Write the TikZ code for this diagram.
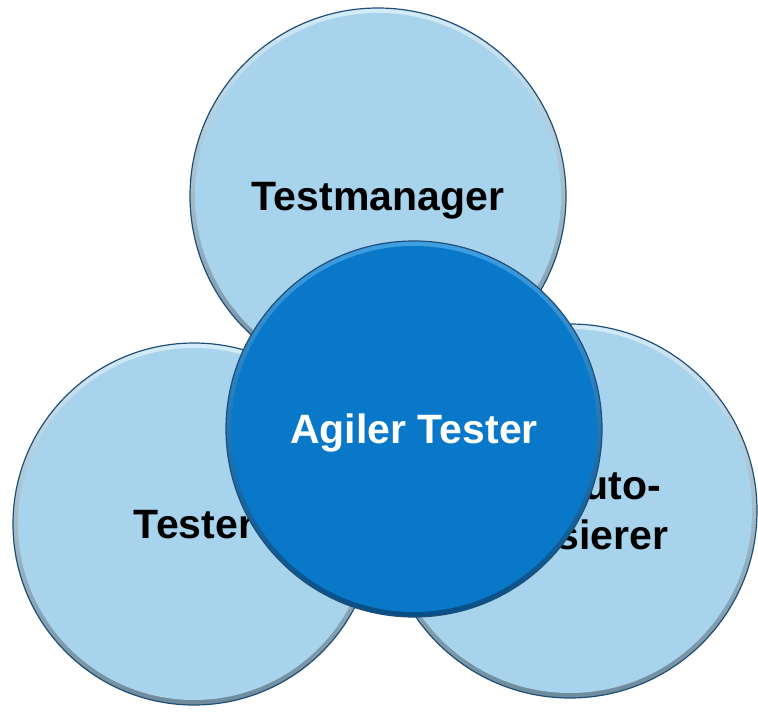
\documentclass[tikz,border=0pt]{standalone}
\usepackage{fontspec}
\setmainfont{Liberation Sans}
\usepackage{tikz}

\definecolor{paleblue}{HTML}{A7D3EC}
\definecolor{paletop}{HTML}{D4ECF8}
\definecolor{palebottom}{HTML}{6E8B9C}
\definecolor{deepblue}{HTML}{0A78C8}
\definecolor{deeptop}{HTML}{3E9FE2}
\definecolor{deepbottom}{HTML}{064E86}
\definecolor{rimline}{HTML}{1F4E79}

\begin{document}
\begin{tikzpicture}[x=1pt, y=-1pt,
	ball/.style={circle, draw=rimline, line width=1.2pt, minimum size=2*#1, inner sep=0pt,
		font=\bfseries\fontsize{41}{50}\selectfont, align=center},
	role/.style={ball=#1, top color=paletop, bottom color=palebottom,
		path picture={\fill[paleblue] (path picture bounding box.center) circle [radius=#1-5pt];}},
	core/.style={ball=#1, text=white, top color=deeptop, bottom color=deepbottom,
		path picture={\fill[deepblue] (path picture bounding box.center) circle [radius=#1-5pt];}},
	oneline/.style={text height=29.5pt, text depth=0pt}]
\useasboundingbox (0,0) rectangle (758,714);
\node [role=188pt, oneline] (manager) at (378,196) {Testmanager};
\node [role=181pt, oneline] (tester) at (194,524) {Tester};
\node [role=187pt] (automat) at (570,511) {Testauto-\\matisierer};
\node [core=188pt, oneline] (agile) at (414,429) {Agiler Tester};
\end{tikzpicture}
\end{document}
